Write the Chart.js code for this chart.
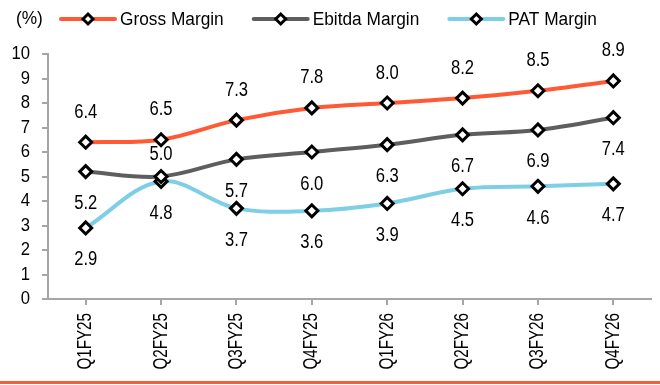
<!DOCTYPE html>
<html>
<head>
<meta charset="utf-8">
<script src="https://cdn.jsdelivr.net/npm/chart.js@4.4.1/dist/chart.umd.min.js"></script>
<style>
  html, body { margin: 0; padding: 0; background: #fff; }
  #wrap { width: 660px; height: 385px; position: relative; }
</style>
</head>
<body>
<div id="wrap"><canvas id="c" width="660" height="385"></canvas></div>
<script>
// Quarterly margins (%)
const quarters = ['Q1FY25', 'Q2FY25', 'Q3FY25', 'Q4FY25', 'Q1FY26', 'Q2FY26', 'Q3FY26', 'Q4FY26'];
const grossMargin  = [6.4, 6.5, 7.3, 7.8, 8.0, 8.2, 8.5, 8.9];
const ebitdaMargin = [5.2, 5.0, 5.7, 6.0, 6.3, 6.7, 6.9, 7.4];
const patMargin    = [2.9, 4.8, 3.7, 3.6, 3.9, 4.5, 4.6, 4.7];
const yTicks = [0, 1, 2, 3, 4, 5, 6, 7, 8, 9, 10];

const FONT = "'Liberation Sans', Arial, sans-serif";
const TEXT = '#000';

// which side of each point its value label sits on (-1 above, +1 below)
const labelSides = [
  [-1, -1, -1, -1, -1, -1, -1, -1],
  [ 1, -1,  1,  1,  1,  1,  1,  1],
  [ 1,  1,  1,  1,  1,  1,  1,  1]
];

// narrow-looking text: draw with a horizontal squeeze, optionally rotated
function narrowText(ctx, str, x, y, opts) {
  ctx.save();
  ctx.font = opts.size + 'px ' + FONT;
  ctx.fillStyle = TEXT;
  ctx.textBaseline = 'middle';
  ctx.textAlign = opts.align || 'center';
  ctx.translate(x, y);
  if (opts.rotate) ctx.rotate(opts.rotate);
  ctx.scale(opts.squeeze, 1);
  ctx.fillText(str, 0, 0);
  const w = ctx.measureText(str).width * opts.squeeze;
  ctx.restore();
  return w;
}

const valueLabels = {
  id: 'valueLabels',
  afterDatasetsDraw(chart) {
    const ctx = chart.ctx;
    chart.data.datasets.forEach((ds, i) => {
      const meta = chart.getDatasetMeta(i);
      meta.data.forEach((pt, j) => {
        const side = labelSides[i][j];
        const off = side < 0 ? (i === 0 ? 30 : 22) : 32;
        narrowText(ctx, ds.data[j].toFixed(1), pt.x, pt.y + side * off, { size: 20, squeeze: 0.83 });
      });
    });
  }
};

const axisText = {
  id: 'axisText',
  afterDraw(chart) {
    const ctx = chart.ctx;
    const xs = chart.scales.x, ys = chart.scales.y;
    yTicks.forEach(v => {
      narrowText(ctx, String(v), 30, ys.getPixelForValue(v), { size: 18.5, squeeze: 0.9, align: 'right' });
    });
    quarters.forEach((q, i) => {
      narrowText(ctx, q, xs.getPixelForValue(i), ys.bottom + 14, { size: 20, squeeze: 0.76, align: 'right', rotate: -Math.PI / 2 });
    });
  }
};

const topLegend = {
  id: 'topLegend',
  afterDraw(chart) {
    const ctx = chart.ctx;
    const y = 19;
    narrowText(ctx, '(%)', 16, y, { size: 18, squeeze: 0.96, align: 'left' });
    let x = 61;
    chart.data.datasets.forEach(ds => {
      ctx.save();
      ctx.strokeStyle = ds.borderColor;
      ctx.lineWidth = 4;
      ctx.lineCap = 'round';
      ctx.beginPath();
      ctx.moveTo(x, y);
      ctx.lineTo(x + 54, y);
      ctx.stroke();
      // diamond marker
      const cx = x + 27, r = 5;
      ctx.beginPath();
      ctx.moveTo(cx, y - r);
      ctx.lineTo(cx + r, y);
      ctx.lineTo(cx, y + r);
      ctx.lineTo(cx - r, y);
      ctx.closePath();
      ctx.fillStyle = '#fff';
      ctx.fill();
      ctx.lineWidth = 3;
      ctx.strokeStyle = '#000';
      ctx.stroke();
      ctx.restore();
      const w = narrowText(ctx, ds.label, x + 59, y + 1, { size: 18, squeeze: 0.96, align: 'left' });
      x += 59 + w + 30;
    });
    // rule along the bottom edge
    ctx.save();
    ctx.fillStyle = '#F0613A';
    ctx.fillRect(0, 381, chart.width, 3);
    ctx.restore();
  }
};

const pointStyle = {
  pointStyle: 'rectRot',
  pointRadius: 6,
  pointHoverRadius: 6,
  pointBackgroundColor: '#fff',
  pointBorderColor: '#000',
  pointBorderWidth: 3,
  borderWidth: 4,
  tension: 0.35,
  fill: false
};

new Chart(document.getElementById('c'), {
  type: 'line',
  data: {
    labels: quarters,
    datasets: [
      Object.assign({ label: 'Gross Margin',  data: grossMargin,  borderColor: '#FF5A33' }, pointStyle),
      Object.assign({ label: 'Ebitda Margin', data: ebitdaMargin, borderColor: '#5E5E5E' }, pointStyle),
      Object.assign({ label: 'PAT Margin',    data: patMargin,    borderColor: '#7ECFE6' }, pointStyle)
    ]
  },
  options: {
    responsive: false,
    animation: false,
    layout: { padding: { top: 54, right: 9, bottom: 0, left: 0 } },
    plugins: { legend: { display: false }, tooltip: { enabled: false } },
    scales: {
      x: {
        offset: true,
        grid: { drawOnChartArea: false, tickLength: 6, color: '#A6A6A6', lineWidth: 2 },
        border: { color: '#A6A6A6', width: 2 },
        ticks: { color: 'rgba(0,0,0,0)', font: { family: FONT, size: 19 }, minRotation: 90, maxRotation: 90, padding: 6, autoSkip: false },
        afterFit(scale) { scale.height = 86; }
      },
      y: {
        min: 0,
        max: 10,
        grid: { drawOnChartArea: false, tickLength: 6, color: '#A6A6A6', lineWidth: 2 },
        border: { color: '#A6A6A6', width: 2 },
        ticks: { color: 'rgba(0,0,0,0)', font: { family: FONT, size: 18 }, padding: 11, stepSize: 1, autoSkip: false },
        afterFit(scale) { scale.width = 48; }
      }
    }
  },
  plugins: [valueLabels, axisText, topLegend]
});
</script>
</body>
</html>
